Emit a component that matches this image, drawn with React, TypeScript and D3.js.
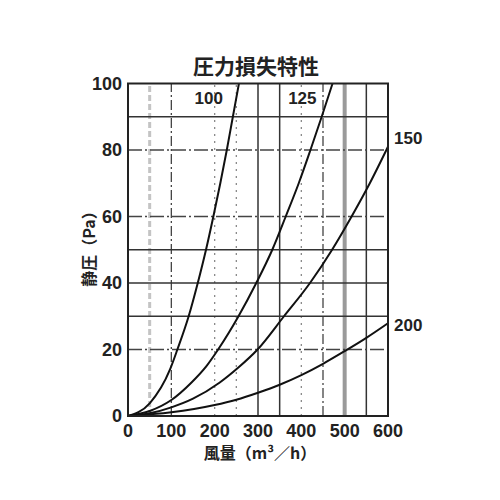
import * as d3 from "d3";

// 圧力損失特性 — static pressure vs airflow for four duct sizes
const title = "圧力損失特性";
const xTitle = "風量（m³／h）";
const yTitle = "静圧（Pa）";

const xTicks = [0, 100, 200, 300, 400, 500, 600];
const yTicks = [0, 20, 40, 60, 80, 100];

// grid lines, grouped by how they are drawn
const vSolid = [300, 350, 550];
const vDashDot = [100, 450];
const vDotted = [200, 250, 400];
const vGrayDash = [50];
const vGrayBold = [500];
const hSolid = [30, 40, 50, 90];
const hDashDot = [20, 60, 80];

// curves (airflow m³/h, pressure Pa)
const sizes = ["100", "125", "150", "200"];
const q100 = [0, 50, 97, 114, 140, 161, 180, 197, 213, 228, 242, 256];
const p100 = [0, 3.8, 14, 20, 30, 40, 50, 60, 70, 80, 90, 100];
const q125 = [0, 50, 100, 146, 181, 208, 255, 296, 333, 364, 394, 421, 447, 472];
const p125 = [0, 1.5, 4.8, 10, 15, 20, 30, 40, 50, 60, 70, 80, 90, 100];
const q150 = [0, 50, 100, 150, 211, 254, 299, 360, 420, 471, 516, 558, 600];
const p150 = [0, 0.8, 2.6, 5.2, 10, 14.5, 20, 30, 40, 50, 60, 70, 81];
const q200 = [0, 100, 200, 250, 300, 350, 400, 450, 500, 550, 600];
const p200 = [0, 1.1, 3.3, 4.9, 7, 9.4, 12.3, 15.7, 19.5, 23.5, 27.9];

const numFont = "'Liberation Sans', Arial, sans-serif";
const cjkFont = "'Noto Sans CJK JP', 'Noto Sans', sans-serif";

export default function App() {
    const width = 500;
    const height = 500;
    const x = d3.scaleLinear().domain([0, 600]).range([128, 388]);
    const y = d3.scaleLinear().domain([0, 100]).range([416, 83.5]);

    const series = [
        { name: sizes[0], q: q100, p: p100 },
        { name: sizes[1], q: q125, p: p125 },
        { name: sizes[2], q: q150, p: p150 },
        { name: sizes[3], q: q200, p: p200 },
    ];

    const line = d3
        .line<[number, number]>()
        .x((d) => x(d[0]))
        .y((d) => y(d[1]))
        .curve(d3.curveMonotoneX);

    const vLine = (v: number, key: string, props: any) => (
        <line key={key + v} x1={x(v)} x2={x(v)} y1={y(0)} y2={y(100)} {...props} />
    );
    const hLine = (v: number, key: string, props: any) => (
        <line key={key + v} x1={x(0)} x2={x(600)} y1={y(v)} y2={y(v)} {...props} />
    );

    // label anchor points taken from each curve's last point
    const labelPos = (s: (typeof series)[number]) => {
        const qEnd = s.q[s.q.length - 1];
        const pEnd = s.p[s.p.length - 1];
        if (pEnd >= 100) return { x: x(qEnd) - 16, y: y(100) + 20, anchor: "end" };
        // the higher label sits just above the line end, the lower one beside it
        const dy = pEnd > 50 ? -3 : 8;
        return { x: x(qEnd) + 6, y: y(pEnd) + dy, anchor: "start" };
    };

    return (
        <svg
            width={width}
            height={height}
            style={{ position: "absolute", left: 0, top: 0, background: "#fff" }}
        >
            <rect x={0} y={0} width={width} height={height} fill="#fff" />

            {/* grid */}
            {vGrayDash.map((v) => vLine(v, "vgd", { stroke: "#c4c4c4", strokeWidth: 3, strokeDasharray: "6 3" }))}
            {vGrayBold.map((v) => vLine(v, "vgb", { stroke: "#9a9a9a", strokeWidth: 4 }))}
            {vDotted.map((v) => vLine(v, "vdt", { stroke: "#8a8a8a", strokeWidth: 1.3, strokeDasharray: "2 5" }))}
            {vDashDot.map((v) => vLine(v, "vdd", { stroke: "#444", strokeWidth: 1.3, strokeDasharray: "10 3 2 3" }))}
            {vSolid.map((v) => vLine(v, "vs", { stroke: "#333", strokeWidth: 1.5 }))}
            {hDashDot.map((v) => hLine(v, "hdd", { stroke: "#444", strokeWidth: 1.3, strokeDasharray: "14 3 2 3" }))}
            {hSolid.map((v) => hLine(v, "hs", { stroke: "#333", strokeWidth: 1.5 }))}

            {/* curves */}
            {series.map((s) => (
                <path
                    key={s.name}
                    d={line(s.q.map((q, i) => [q, s.p[i]] as [number, number])) ?? ""}
                    fill="none"
                    stroke="#111"
                    strokeWidth={2}
                />
            ))}

            {/* frame */}
            <rect
                x={x(0)}
                y={y(100)}
                width={x(600) - x(0)}
                height={y(0) - y(100)}
                fill="none"
                stroke="#222"
                strokeWidth={2}
            />

            {/* curve labels */}
            {series.map((s) => {
                const lp = labelPos(s);
                return (
                    <text
                        key={"l" + s.name}
                        x={lp.x}
                        y={lp.y}
                        textAnchor={lp.anchor}
                        fontSize={17}
                        fontWeight="bold"
                        fontFamily={numFont}
                        fill="#222"
                    >
                        {s.name}
                    </text>
                );
            })}

            {/* y ticks */}
            {yTicks.map((t) => (
                <text
                    key={"y" + t}
                    x={x(0) - 6}
                    y={y(t) + 6}
                    textAnchor="end"
                    fontSize={18}
                    fontWeight="bold"
                    fontFamily={numFont}
                    fill="#222"
                >
                    {t}
                </text>
            ))}

            {/* x ticks */}
            {xTicks.map((t) => (
                <text
                    key={"x" + t}
                    x={x(t)}
                    y={437}
                    textAnchor="middle"
                    fontSize={18}
                    fontWeight="bold"
                    fontFamily={numFont}
                    fill="#222"
                >
                    {t}
                </text>
            ))}

            {/* titles */}
            <text x={256} y={74} textAnchor="middle" fontSize={21} fontWeight="bold" fontFamily={cjkFont} fill="#222">
                {title}
            </text>
            <text x={260} y={459} textAnchor="middle" fontSize={16} fontWeight="bold" fontFamily={cjkFont} fill="#222">
                {xTitle}
            </text>
            <text
                x={88}
                y={245}
                textAnchor="middle"
                dominantBaseline="central"
                fontSize={16}
                fontWeight="bold"
                fontFamily={cjkFont}
                fill="#222"
                transform="rotate(-90, 88, 245)"
            >
                {yTitle}
            </text>
        </svg>
    );
}
